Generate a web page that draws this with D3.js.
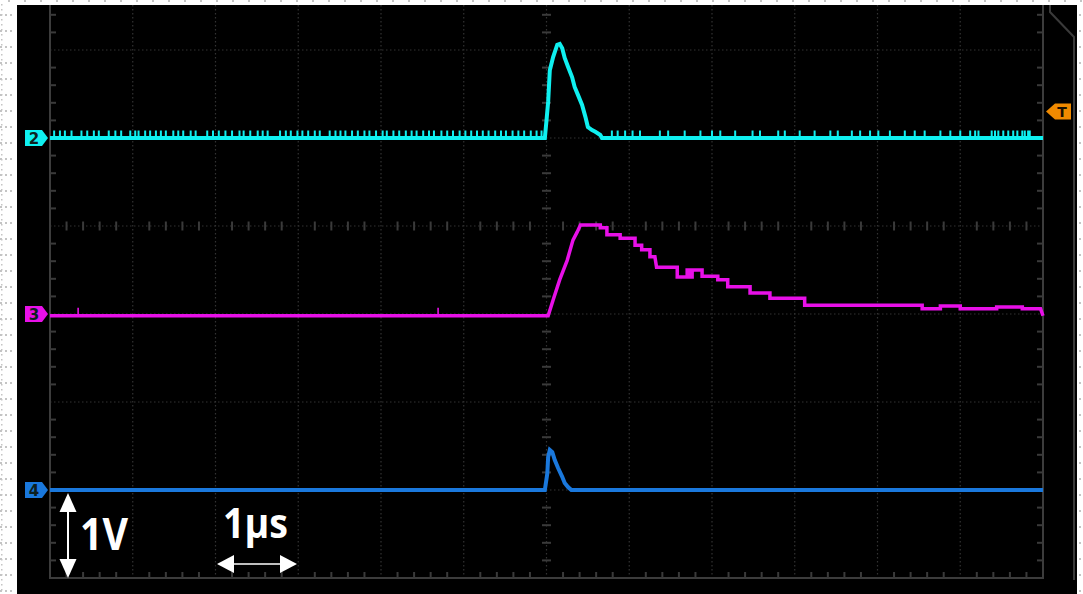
<!DOCTYPE html>
<html><head><meta charset="utf-8">
<script src="https://cdn.jsdelivr.net/npm/d3@7"></script>
<style>body{margin:0;background:#fff}svg{display:block}</style>
</head><body><svg id="c" width="1083" height="594"></svg>
<script>
// ---- data (time in µs, voltage in V, 1 V/div) ----
const ch2Pulse = [[-6,0],[-0.02,0],[0.00,0.20],[0.02,0.41],[0.04,0.77],[0.08,0.92],[0.13,1.06],[0.16,1.07],[0.19,1.02],[0.22,0.91],[0.26,0.81],[0.31,0.69],[0.34,0.58],[0.38,0.49],[0.43,0.375],[0.47,0.24],[0.50,0.125],[0.55,0.09],[0.59,0.07],[0.65,0.034],[0.67,0],[6,0]];
const ch2Glitches = [-5.95,-5.88,-5.82,-5.74,-5.62,-5.55,-5.47,-5.41,-5.29,-5.21,-5.14,-5.03,-4.97,-4.93,-4.85,-4.79,-4.72,-4.66,-4.60,-4.51,-4.45,-4.39,-4.30,-4.24,-4.10,-4.03,-3.96,-3.88,-3.80,-3.71,-3.66,-3.58,-3.49,-3.43,-3.37,-3.22,-3.15,-3.09,-3.01,-2.95,-2.88,-2.80,-2.74,-2.62,-2.55,-2.49,-2.43,-2.35,-2.28,-2.20,-2.14,-2.06,-1.98,-1.93,-1.85,-1.78,-1.70,-1.63,-1.57,-1.49,-1.42,-1.36,-1.27,-1.20,-1.13,-1.05,-0.98,-0.91,-0.84,-0.77,-0.70,-0.62,-0.55,-0.49,-0.41,-0.34,-0.27,-0.19,-0.12,-0.06,
  0.79,0.86,0.95,1.04,1.13,1.37,1.47,1.67,1.86,2.00,2.10,2.28,2.49,2.58,2.80,2.88,3.06,3.24,3.43,3.52,3.69,3.79,3.91,4.01,4.15,4.33,4.45,4.57,4.76,4.88,5.00,5.12,5.18,5.22,5.38,5.42,5.46,5.52,5.58,5.64,5.69,5.75,5.78,5.82,5.84];
const ch3Trace = [[-6,-0.02],[0.02,-0.02],[0.08,0.16],[0.16,0.39],[0.25,0.61],[0.32,0.84],[0.37,0.93],[0.41,1.01],[0.65,1.01],[0.65,0.98],[0.73,0.98],[0.73,0.90],[0.89,0.90],[0.89,0.86],[1.07,0.86],[1.07,0.78],[1.15,0.78],[1.15,0.73],[1.25,0.73],[1.25,0.65],[1.31,0.65],[1.33,0.53],[1.58,0.53],[1.58,0.42],[1.70,0.42],[1.70,0.50],[1.73,0.50],[1.73,0.42],[1.76,0.42],[1.76,0.50],[1.88,0.50],[1.88,0.43],[2.07,0.43],[2.07,0.39],[2.19,0.39],[2.19,0.31],[2.46,0.31],[2.46,0.24],[2.70,0.24],[2.70,0.18],[3.12,0.18],[3.12,0.10],[4.54,0.10],[4.54,0.06],[4.76,0.06],[4.76,0.09],[5.00,0.09],[5.00,0.06],[5.44,0.06],[5.44,0.08],[5.75,0.08],[5.75,0.06],[5.97,0.06],[6.0,-0.02]];
const ch3Glitches = [-5.66,-1.31];
const ch4Pulse = [[-6,0],[-0.02,0],[0.01,0.19],[0.02,0.375],[0.04,0.455],[0.07,0.43],[0.10,0.34],[0.14,0.25],[0.19,0.15],[0.22,0.08],[0.26,0.034],[0.30,0],[6,0]];
const channelNames = ["2","3","4"];
const channelOffsets = [5,3,1];           // divisions from bottom
const channelColors = ["#0ff0f0","#e810e8","#1a78dc"];
const triggerLevel = 0.3;                 // V on channel 2
const scaleLabels = ["1V","1μs"];

// ---- scales ----
const x = d3.scaleLinear().domain([-6,6]).range([50,1043]);
const y = d3.scaleLinear().domain([0,6]).range([578,50]);
const svg = d3.select("#c");

// page dots
const dots = svg.append("g").attr("fill","#c4c4c4");
for (let xx=8; xx<1083; xx+=16) dots.append("rect").attr("x",xx).attr("y",0).attr("width",2).attr("height",2);
for (let yy=14; yy<594; yy+=16){
  [0,5,10].forEach(xx=>dots.append("rect").attr("x",xx).attr("y",yy).attr("width",2).attr("height",2));
  dots.append("rect").attr("x",1079).attr("y",yy).attr("width",2).attr("height",2);
}
for (let yy=4; yy<594; yy+=5) dots.append("rect").attr("x",1).attr("y",yy).attr("width",1.5).attr("height",1.5);

// screen
svg.append("rect").attr("x",17).attr("y",5).attr("width",1060).attr("height",589).attr("fill","#000");

const grid = svg.append("g");
const gridColor = "#333";
x.ticks(12).slice(1,-1).forEach(t=>{
  grid.append("line").attr("x1",x(t)).attr("x2",x(t)).attr("y1",5).attr("y2",y(0))
    .attr("stroke",gridColor).attr("stroke-width",1.2).attr("stroke-dasharray","1.5,2.5");
});
d3.range(1,7).forEach(d=>{
  grid.append("line").attr("x1",x(-6)).attr("x2",x(6)).attr("y1",y(d)).attr("y2",y(d))
    .attr("stroke",gridColor).attr("stroke-width",1.2).attr("stroke-dasharray","1.5,2.5");
});
const bc = "#3c3c3c";
grid.append("path").attr("d",`M${x(-6)},5V${y(0)}H${x(6)}V5`).attr("fill","none").attr("stroke",bc).attr("stroke-width",2);
const tc = "#3a3a3a";
const yMinor = d3.range(0.2,6.6,0.2).filter(v=>Math.abs(v-Math.round(v))>1e-6);
const xMinor = d3.range(-5.8,6,0.2).filter(v=>Math.abs(v-Math.round(v))>1e-6);
yMinor.forEach(v=>{
  grid.append("line").attr("x1",x(-6)).attr("x2",x(-6)+6).attr("y1",y(v)).attr("y2",y(v)).attr("stroke",tc).attr("stroke-width",2);
  grid.append("line").attr("x1",x(6)-6).attr("x2",x(6)).attr("y1",y(v)).attr("y2",y(v)).attr("stroke",tc).attr("stroke-width",2);
  grid.append("line").attr("x1",x(0)-4.5).attr("x2",x(0)+4.5).attr("y1",y(v)).attr("y2",y(v)).attr("stroke",tc).attr("stroke-width",2);
});
xMinor.forEach(t=>{
  grid.append("line").attr("x1",x(t)).attr("x2",x(t)).attr("y1",y(0)).attr("y2",y(0)-6).attr("stroke",tc).attr("stroke-width",2);
  grid.append("line").attr("x1",x(t)).attr("x2",x(t)).attr("y1",y(4)-4.5).attr("y2",y(4)+4.5).attr("stroke",tc).attr("stroke-width",2);
});
svg.append("path").attr("d","M1050,5V12L1074,37V580").attr("fill","none").attr("stroke","#3a3a3a").attr("stroke-width",2);

// traces
const traces = svg.append("g");
function drawTrace(data, off, color, w){
  const line = d3.line().x(d=>x(d[0])).y(d=>y(off+d[1]));
  traces.append("path").attr("d",line(data)).attr("fill","none").attr("stroke",color)
    .attr("stroke-width",w).attr("stroke-linejoin","miter");
}
ch2Glitches.forEach(t=>{
  traces.append("line").attr("x1",x(t)).attr("x2",x(t)).attr("y1",y(channelOffsets[0])).attr("y2",y(channelOffsets[0]+0.085))
    .attr("stroke",channelColors[0]).attr("stroke-width",2);
});
ch3Glitches.forEach(t=>{
  traces.append("line").attr("x1",x(t)).attr("x2",x(t)).attr("y1",y(channelOffsets[1]-0.02)).attr("y2",y(channelOffsets[1]+0.07))
    .attr("stroke",channelColors[1]).attr("stroke-width",1.6);
});
drawTrace(ch2Pulse, channelOffsets[0], channelColors[0], 4);
drawTrace(ch3Trace, channelOffsets[1], channelColors[1], 3.5);
drawTrace(ch4Pulse, channelOffsets[2], channelColors[2], 4);

// channel markers
channelNames.forEach((n,i)=>{
  const cy = y(channelOffsets[i]);
  svg.append("path").attr("d",`M25,${cy-8}H42L48,${cy}L42,${cy+8}H25Z`).attr("fill",channelColors[i]);
  svg.append("text").attr("x",34).attr("y",cy+5.5).attr("text-anchor","middle")
    .attr("font-family","DejaVu Sans").attr("font-weight","bold").attr("font-size",15).attr("fill","#0d2020").text(n);
});
const ty = y(channelOffsets[0]+triggerLevel);
svg.append("path").attr("d",`M1071,${ty-8}H1055L1046,${ty}L1055,${ty+8}H1071Z`).attr("fill","#f08a00");
svg.append("text").attr("x",1062).attr("y",ty+5.5).attr("text-anchor","middle")
  .attr("font-family","DejaVu Sans").attr("font-weight","bold").attr("font-size",14).attr("fill","#1a1000").text("T");

// scale annotations
const ann = svg.append("g").attr("fill","#fff");
const ax = 68;
ann.append("line").attr("x1",ax).attr("x2",ax).attr("y1",510).attr("y2",561).attr("stroke","#fff").attr("stroke-width",2);
ann.append("path").attr("d",`M${ax},493L${ax+8.5},512H${ax-8.5}Z`);
ann.append("path").attr("d",`M${ax},578L${ax+8.5},559H${ax-8.5}Z`);
ann.append("text").attr("x",80).attr("y",550).attr("font-family","Open Sans").attr("font-weight","bold")
  .attr("font-size",45).attr("textLength",48).attr("lengthAdjust","spacingAndGlyphs").text(scaleLabels[0]);
const ay = 564;
ann.append("line").attr("x1",231).attr("x2",282).attr("y1",ay).attr("y2",ay).attr("stroke","#fff").attr("stroke-width",1.6);
ann.append("path").attr("d",`M217,${ay}L234,${ay-9}V${ay+9}Z`);
ann.append("path").attr("d",`M297,${ay}L280,${ay-9}V${ay+9}Z`);
ann.append("text").attr("x",223).attr("y",538).attr("font-family","Open Sans").attr("font-weight","bold")
  .attr("font-size",41).attr("textLength",65).attr("lengthAdjust","spacingAndGlyphs").text(scaleLabels[1]);
</script></body></html>
